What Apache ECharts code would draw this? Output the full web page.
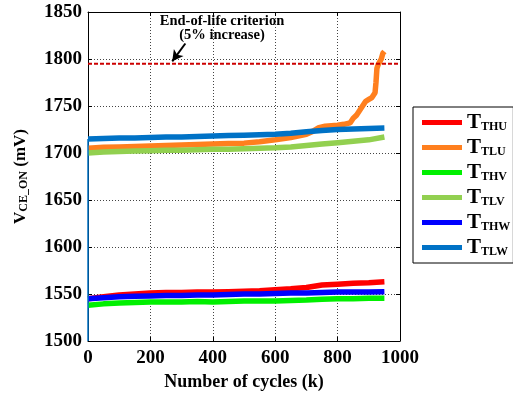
<!DOCTYPE html>
<html><head><meta charset="utf-8">
<script src="https://cdn.jsdelivr.net/npm/echarts@6/dist/echarts.min.js"></script>
<style>html,body{margin:0;padding:0;background:#fff}#c{width:513px;height:396px}</style>
</head><body><div id="c"></div>
<script>
var cycles = [0,50,100,150,200,250,300,350,400,450,500,550,600,650,700,750,800,850,900,950];
var tTHU = [1545,1547,1549,1550,1551,1551.5,1551.5,1552,1552,1552.5,1553,1553.5,1554.5,1555.5,1557,1559.5,1560.5,1561.5,1562,1563];
var tTHW = [1545,1546,1547,1547.5,1548,1548.5,1548.5,1549,1549,1549.5,1550,1550,1550.5,1551,1551,1551.5,1552,1552,1552,1552.5];
var tTHV = [1538,1539.5,1540.5,1541,1541.5,1541.5,1541.5,1542,1541.5,1542,1542.5,1542.5,1542.5,1543,1543.5,1544.5,1545,1545,1545.5,1545.5];
var tTLV = [1700,1701,1701.5,1702,1702.5,1703,1703,1703.5,1704,1704,1704.5,1705,1705.5,1706.5,1708,1709.5,1711,1712.5,1714,1717];
var tTLW = [1715,1715.5,1716,1716,1716.5,1717,1717,1717.5,1718,1718.5,1719,1719.5,1720,1721,1722.5,1724,1725,1725.5,1726,1726.5];
var tTLWstart = [[0,1500],[0,1715]];
var tluCycles = [0,50,100,150,200,250,300,350,400,450,500,550,600,650,700,720,740,760,780,800,820,840,850,860,870,880,890,900,910,920,923,926,930,935,940,945,950];
var tTLU = [1705,1706,1706.5,1707,1707.5,1708,1708.5,1709,1709.5,1710,1710.5,1712,1714,1716.5,1720,1723,1727,1728.5,1729,1729.5,1730.5,1732,1737,1740,1745,1750,1755,1757,1759,1764,1775,1790,1794,1796,1800,1806,1808];
var threshold = 1795;
var names = ['THU','TLU','THV','TLV','THW','TLW'];
var colors = ['#ff0000','#ff7f1e','#00f000','#92d050','#0000ff','#0072c6'];

function pairs(xs, ys){ return xs.map(function(x,i){return [x, ys[i]];}); }
var font = 'Liberation Serif';
var chart = echarts.init(document.getElementById('c'), null, {renderer:'canvas'});
var lbl = {fontFamily:font, fontWeight:'bold', fontSize:19, color:'#000', formatter:function(v){return String(v);}};
var split = {show:true, lineStyle:{color:'#444', type:[1,2], width:1}};
var seriesData = {THU:pairs(cycles,tTHU), TLU:pairs(tluCycles,tTLU), THV:pairs(cycles,tTHV), TLV:pairs(cycles,tTLV), THW:pairs(cycles,tTHW), TLW:pairs(cycles,tTLW)};
var series = names.map(function(n,i){
  return {name:n, type:'line', data:seriesData[n], showSymbol:false, symbol:'none', lineStyle:{width:5.5, color:colors[i]}, itemStyle:{color:colors[i]}, z:2+i};
});
series.push({name:'TLWstart', type:'line', data:tTLWstart, showSymbol:false, symbol:'none', lineStyle:{width:1.5, color:colors[5]}, z:9});
series.push({name:'thr', type:'line', data:[[0,threshold],[1000,threshold]], showSymbol:false, symbol:'none', lineStyle:{width:2, color:'#cc0000', type:[4,2]}, z:10,
  markLine:{silent:true, symbol:['none','arrow'], symbolSize:[9,11], label:{show:false}, lineStyle:{color:'#000', width:2, type:'solid'}, data:[[{coord:[312,1816.5]},{coord:[270,1797.5]}]]}});
chart.setOption({
  animation:false,
  grid:{left:88, top:12, width:312, height:338},
  xAxis:[{type:'value', min:0, max:1000, interval:200, position:'bottom',
    axisLine:{show:true, onZero:false, lineStyle:{color:'#000', width:1}},
    axisTick:{show:true, inside:true, length:4, lineStyle:{color:'#000'}},
    axisLabel:Object.assign({margin:8}, lbl), splitLine:split,
    name:'Number of cycles (k)', nameLocation:'middle', nameGap:32, nameTextStyle:{fontFamily:font, fontWeight:'bold', fontSize:18, color:'#000'}},
    {type:'value', min:0, max:1000, interval:200, position:'top', axisLine:{show:true, onZero:false, lineStyle:{color:'#000'}}, axisTick:{show:true, inside:true, length:4, lineStyle:{color:'#000'}}, axisLabel:{show:false}, splitLine:{show:false}}],
  yAxis:[{type:'value', min:1500, max:1850, interval:50, position:'left',
    axisLine:{show:true, onZero:false, lineStyle:{color:'#000', width:1}},
    axisTick:{show:true, inside:true, length:4, lineStyle:{color:'#000'}},
    axisLabel:Object.assign({margin:6}, lbl), splitLine:split,
    name:'{v|V}{s|CE_ON}{v| (mV)}', nameLocation:'middle', nameRotate:90, nameGap:58,
    nameTextStyle:{rich:{v:{fontFamily:font, fontWeight:'bold', fontSize:17, color:'#000'}, s:{fontFamily:font, fontWeight:'bold', fontSize:12, color:'#000', verticalAlign:'bottom', padding:[6,0,0,0]}}}},
    {type:'value', min:1500, max:1850, interval:50, position:'right', axisLine:{show:true, onZero:false, lineStyle:{color:'#000'}}, axisTick:{show:true, inside:true, length:4, lineStyle:{color:'#000'}}, axisLabel:{show:false}, splitLine:{show:false}}],
  legend:{data:names, orient:'vertical', left:413, top:107, padding:[5,3,5,9], itemGap:4, itemWidth:40, itemHeight:5, icon:'rect',
    borderColor:'#000', borderWidth:1, backgroundColor:'#fff',
    formatter:function(n){return '{a|T}{b|'+n+'}';},
    textStyle:{rich:{a:{fontFamily:font, fontWeight:'bold', fontSize:21, color:'#000', lineHeight:20}, b:{fontFamily:font, fontWeight:'bold', fontSize:12, color:'#000', verticalAlign:'bottom', padding:[7,0,0,0]}}}},
  graphic:[
    {type:'text', x:222, y:14, style:{text:'End-of-life criterion\n(5% increase)', textAlign:'center', font:'bold 14.5px "Liberation Serif"', fill:'#000', lineHeight:14}, z:20}
  ],
  series:series
});
</script></body></html>
